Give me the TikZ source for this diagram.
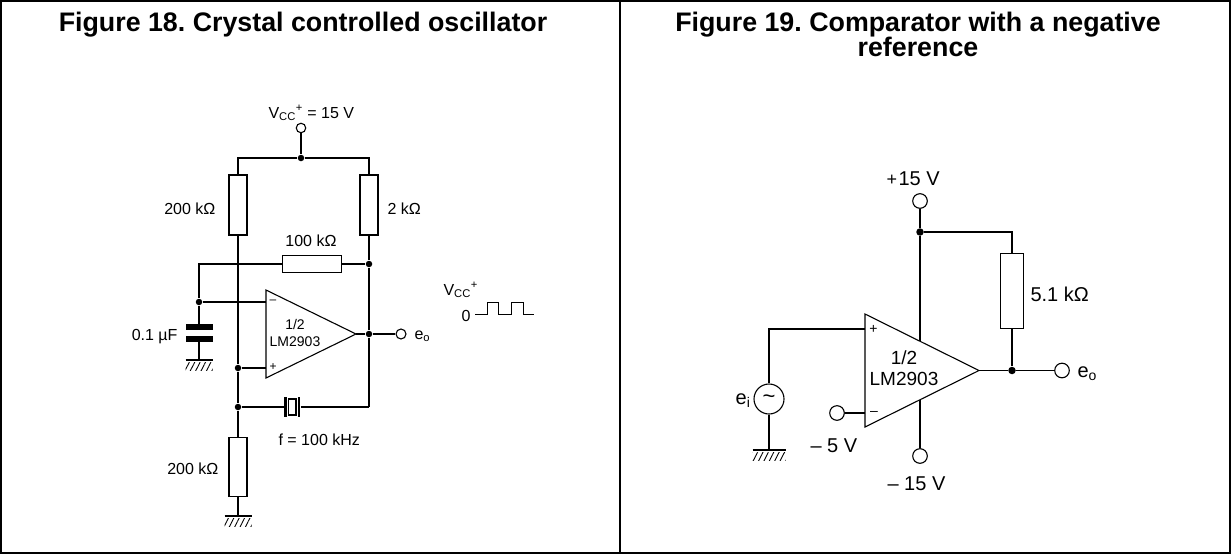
\documentclass[tikz,border=0pt]{standalone}
\usepackage{fontspec}
\setmainfont{Liberation Sans}
\usepackage{tikz}
\usetikzlibrary{calc}
\usetikzlibrary{patterns.meta}
\frenchspacing

\newcommand{\tierra}[3]{% masa: x, y, semiancho
	\draw [line width=2.8pt] (#1-#3,#2) -- (#1+#3,#2);
	\fill [pattern={Lines[angle=63,distance=4.8pt,line width=0.9pt]}] (#1-#3,#2+2.5) rectangle (#1+#3,#2+10);
}

\begin{document}
\begin{tikzpicture}[x=1pt, y=-1pt, line width=1.1pt,
		res/.style={draw, rectangle, inner sep=0pt, fill=white},
		term/.style={draw, circle, inner sep=0pt, minimum size=10pt, fill=white},
		punto/.style={circle, fill, inner sep=0pt, minimum size=6.5pt},
		txt/.style={inner sep=0pt, font=\fontsize{16}{19}\selectfont},
		txtb/.style={inner sep=0pt, font=\fontsize{20}{23}\selectfont},
		titulo/.style={inner sep=0pt, font=\fontsize{26.8}{30}\selectfont\bfseries}]
			\useasboundingbox (0,0) rectangle (1231,554);
			\draw [line width=1.8pt] (1,1) rectangle (1230,553); % marco
			\draw [line width=1.8pt] (620,1) -- (620,553); % division
			\node [titulo, anchor=base] (tit18) at (303,31) {Figure 18. Crystal controlled oscillator};
			\node [titulo, anchor=base] (tit19a) at (918,31) {Figure 19. Comparator with a negative};
			\node [titulo, anchor=base] (tit19b) at (918,56) {reference};
			% figura 18
			\node [term, minimum size=9.5pt] (vcc) at (301,128) {}; % alimentacion
			\node [txt, anchor=base west] (vcclbl) at (268,118) {V\textsubscript{CC}\textsuperscript{+} = 15 V};
			\node [punto] (p1) at (301,158) {};
			\node [res, minimum width=18pt, minimum height=60pt] (r1) at (238,205) {}; % 200k
			\node [res, minimum width=18pt, minimum height=60pt] (r2) at (369,205) {}; % 2k
			\draw (vcc) -- (p1);
			\draw (r1.north) |- (p1) -| (r2.north);
			\node [txt, anchor=base east] (r1lbl) at (216,214) {200 kΩ};
			\node [txt, anchor=base west] (r2lbl) at (387,214) {2 kΩ};
			\node [res, minimum width=59pt, minimum height=17.5pt] (r3) at (312,264) {}; % 100k
			\node [txt, anchor=base] (r3lbl) at (311,246) {100 kΩ};
			\node [punto] (p2) at (369,264) {};
			\coordinate (c1) at (199,264);
			\node [punto] (p3) at (199,302) {};
			\draw (r3.west) -- (c1) -- (p3);
			\draw (r3.east) -- (p2);
			% comparador
			\coordinate (a1) at (266,290);
			\coordinate (a1b) at (266,378);
			\coordinate (a1s) at (356,334);
			\coordinate (a1m) at (266,302);
			\coordinate (a1p) at (266,368);
			\draw [fill=white] (a1) -- (a1s) -- (a1b) -- cycle;
			\node [inner sep=0pt, font=\fontsize{12}{12}\selectfont] (a1ms) at (273,302) {–};
			\node [inner sep=0pt, font=\fontsize{12}{12}\selectfont] (a1ps) at (273,367) {+};
			\node [inner sep=0pt, font=\fontsize{14}{17.5}\selectfont, align=center] (a1t) at (295,333) {1/2\\LM2903};
			\node [punto] (p4) at (238,368) {};
			\draw (p3) -- (a1m);
			\draw (p4) -- (a1p);
			% condensador
			\node [fill, inner sep=0pt, minimum width=27pt, minimum height=5.7pt] (cp1) at (199,327) {};
			\node [fill, inner sep=0pt, minimum width=27pt, minimum height=5.7pt] (cp2) at (199,339) {};
			\coordinate (gnd1) at (199,360);
			\draw (p3) -- (cp1);
			\draw (cp2) -- (gnd1);
			\tierra{199}{360}{13.5}
			\node [txt, anchor=base east] (cplbl) at (178,340) {0.1 µF};
			% rama izquierda
			\node [punto] (p5) at (238,407) {};
			\node [res, minimum width=18pt, minimum height=59.5pt] (r4) at (238,467) {}; % 200k
			\coordinate (gnd2) at (238,516);
			\draw (r1.south) -- (p4) -- (p5) -- (r4.north);
			\draw (r4.south) -- (gnd2);
			\tierra{238}{516}{13.5}
			\node [txt, anchor=base east] (r4lbl) at (219,474) {200 kΩ};
			% rama derecha y salida
			\node [punto] (p6) at (369,334) {};
			\coordinate (c3) at (369,407);
			\draw (r2.south) -- (p2) -- (p6) -- (c3);
			\node [term] (eo1) at (401,334) {};
			\draw (a1s) -- (p6) -- (eo1);
			\node [txt, anchor=base west] (eo1lbl) at (414,339) {e\textsubscript{o}};
			% cristal
			\node [fill, inner sep=0pt, minimum width=2.6pt, minimum height=20pt] (xp1) at (285.5,407) {};
			\node [fill, inner sep=0pt, minimum width=2.6pt, minimum height=20pt] (xp2) at (299,407) {};
			\node [res, minimum width=7.5pt, minimum height=16pt] (xtal) at (292.2,407) {};
			\draw (p5) -- (xp1);
			\draw (xp2) -- (c3);
			\node [txt, anchor=base west] (flbl) at (278,445) {f = 100 kHz};
			% onda cuadrada
			\node [txt, anchor=base west] (vcc2) at (443,295) {V\textsubscript{CC}\textsuperscript{+}};
			\node [txt, anchor=base east] (cero) at (471,321) {0};
			\coordinate (sq) at (475,314);
			\draw [line width=1pt] (sq) -- ++(12,0) -- ++(0,-12) -- ++(11,0) -- ++(0,12) -- ++(13,0) -- ++(0,-12) -- ++(12,0) -- ++(0,12) -- ++(11,0);
			% figura 19
			\node [txtb, anchor=base west] (v15) at (886,185) {{\fontsize{18}{18}\selectfont +}\kern1.5pt 15 V};
			\node [term, minimum size=14.6pt] (t15) at (920,201) {};
			\node [punto, minimum size=7.5pt] (q1) at (920,232) {};
			\node [res, minimum width=22.7pt, minimum height=75pt] (r5) at (1012,291) {}; % 5.1k
			\node [txtb, anchor=base west] (r5lbl) at (1030,301) {5.1 kΩ};
			\node [term, minimum size=14.6pt] (tm15) at (920,456) {};
			\draw (t15) -- (q1) -| (r5.north);
			\draw (q1) -- (tm15); % tapado por el comparador
			% comparador
			\coordinate (b1) at (865,314);
			\coordinate (b2) at (865,427);
			\coordinate (b3) at (979,370.5);
			\coordinate (bp) at (865,329);
			\coordinate (bm) at (865,413);
			\draw [fill=white] (b1) -- (b3) -- (b2) -- cycle;
			\node [inner sep=0pt, font=\fontsize{14}{14}\selectfont] (bps) at (873.5,329) {+};
			\node [inner sep=0pt, font=\fontsize{14}{14}\selectfont] (bms) at (874,413) {–};
			\node [inner sep=0pt, font=\fontsize{19}{20.6}\selectfont, align=center] (b1t) at (904,368) {1/2\\LM2903};
			% entrada
			\node [draw, circle, inner sep=0pt, minimum size=30pt, font=\fontsize{22}{22}\selectfont] (ei) at (769,399) {\textasciitilde};
			\coordinate (gnd3) at (769,450);
			\draw (bp) -| (ei);
			\draw (ei) -- (gnd3);
			\tierra{769}{450}{16.5}
			\node [txtb, anchor=base east] (eilbl) at (751,404) {e\textsubscript{i}};
			\node [term, minimum size=14.6pt] (t5) at (837,413) {};
			\draw (t5) -- (bm);
			\node [txtb, anchor=base west] (m5) at (810,452) {– 5 V};
			\node [txtb, anchor=base west] (m15) at (887,490) {– 15 V};
			% salida
			\node [punto, minimum size=7.5pt] (q3) at (1012,370.5) {};
			\node [term, minimum size=14.6pt] (eo2) at (1062,370.5) {};
			\draw (r5.south) -- (q3);
			\draw (b3) -- (q3) -- (eo2);
			\node [txtb, anchor=base west] (eo2lbl) at (1077,377) {e\textsubscript{o}};
		\end{tikzpicture}
\end{document}
